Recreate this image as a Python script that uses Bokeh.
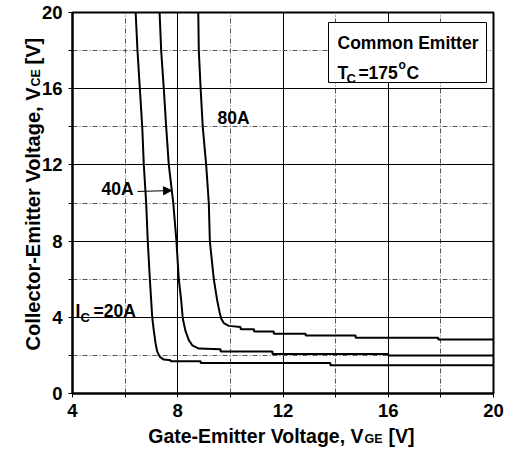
import math
from bokeh.plotting import figure
from bokeh.models import Range1d, FixedTicker, Label, BoxAnnotation, Arrow, NormalHead
from bokeh.embed import file_html
from bokeh.resources import INLINE

# ---------------- data ----------------
x_ticks = [4, 8, 12, 16, 20]
x_minor = [6, 10, 14, 18]
y_ticks = [0, 4, 8, 12, 16, 20]
y_minor = [2, 6, 10, 14, 18]

vge_20a = [6.40, 6.47, 6.56, 6.65, 6.71, 6.80, 6.86, 6.94, 7.03, 7.09, 7.16, 7.22, 7.32, 7.47, 7.73, 7.73, 8.87, 8.87, 13.8, 13.8, 20.0]
vce_20a = [20.0, 18.0, 16.0, 14.0, 12.0, 10.0, 8.0, 6.0, 4.0, 3.3, 2.6, 2.2, 1.92, 1.78, 1.74, 1.69, 1.69, 1.60, 1.60, 1.48, 1.48]

vge_40a = [7.31, 7.37, 7.47, 7.56, 7.66, 7.83, 7.95, 8.04, 8.13, 8.19, 8.29, 8.42, 8.55, 8.80, 9.63, 9.63, 11.6, 11.6, 16.0, 16.0, 20.0]
vce_40a = [20.0, 18.0, 16.0, 14.0, 12.0, 10.0, 8.0, 6.0, 4.9, 3.95, 3.3, 2.8, 2.53, 2.36, 2.32, 2.20, 2.20, 2.07, 2.07, 1.99, 1.99]

vge_80a = [8.78, 8.80, 8.87, 8.95, 9.08, 9.18, 9.22, 9.37, 9.50, 9.59, 9.65, 9.75, 9.94, 10.39, 10.39, 10.9, 10.9, 11.65, 11.65, 12.86, 12.86, 14.76, 14.76, 17.9, 17.9, 20.0]
vce_80a = [20.0, 18.0, 16.0, 14.0, 12.0, 10.0, 8.0, 6.0, 4.88, 4.27, 3.94, 3.70, 3.55, 3.49, 3.37, 3.37, 3.26, 3.26, 3.14, 3.14, 3.05, 3.05, 2.93, 2.93, 2.83, 2.83]

# ---------------- layout ----------------
W, H = 513, 449
FL, FT, FW, FH = 72, 12, 421, 381
XMIN, XMAX, YMIN, YMAX = 4, 20, 0, 20
SX = FW / (XMAX - XMIN)
SY = FH / (YMAX - YMIN)


def dx(px):
    return XMIN + (px - FL) / SX


def dy(py):
    return YMIN + (FT + FH - py) / SY


FONT = "Liberation Sans"

p = figure(width=W, height=H, x_range=Range1d(XMIN, XMAX), y_range=Range1d(YMIN, YMAX),
           output_backend="svg", toolbar_location=None,
           min_border_left=FL, min_border_right=W - FL - FW,
           min_border_top=FT, min_border_bottom=H - FT - FH)
p.background_fill_color = "white"
p.border_fill_color = "white"
p.outline_line_color = "black"
p.outline_line_width = 2

p.xaxis.ticker = FixedTicker(ticks=x_ticks, minor_ticks=x_minor)
p.yaxis.ticker = FixedTicker(ticks=y_ticks, minor_ticks=y_minor)

for ax in (p.xaxis[0], p.yaxis[0]):
    ax.axis_line_color = "black"
    ax.axis_line_width = 2
    ax.major_tick_line_color = "black"
    ax.major_tick_line_width = 1
    ax.major_tick_out = 4
    ax.major_tick_in = 0
    ax.minor_tick_line_color = "black"
    ax.minor_tick_out = 4
    ax.minor_tick_in = 0
    ax.major_label_text_font = FONT
    ax.major_label_text_font_style = "bold"
    ax.major_label_text_font_size = "18.5px"
    ax.major_label_text_color = "black"
    # the real titles are drawn as labels in the side panels; this blank label
    # with a negative standoff only gives back the room those labels take
    ax.axis_label = "\u00a0"
    ax.axis_label_text_font_size = "20px"
    ax.axis_label_standoff = -70
p.xaxis.major_label_standoff = 6
p.yaxis.major_label_standoff = 6

for g in (p.xgrid[0], p.ygrid[0]):
    g.grid_line_color = "black"
    g.grid_line_width = 1
    g.grid_line_alpha = 1
    g.minor_grid_line_color = "#555555"
    g.minor_grid_line_width = 1
    g.minor_grid_line_dash = "5 2 1 2"

for xs, ys in ((vge_20a, vce_20a), (vge_40a, vce_40a), (vge_80a, vce_80a)):
    p.line(xs, ys, line_color="black", line_width=2)


def mk(x, y, text, size, align="left", baseline="alphabetic", angle=0.0, units="data"):
    return Label(x=x, y=y, text=text, text_font=FONT, text_font_style="bold",
                 text_font_size=size, text_color="black", text_align=align,
                 text_baseline=baseline, angle=angle, x_units=units, y_units=units)


def lab(*args, **kw):
    p.add_layout(mk(*args, **kw))


# axis titles placed in the side panels (canvas pixel coordinates)
p.add_layout(mk(363, 435, "Gate-Emitter Voltage, V", "19.5px", align="right", units="canvas"), "below")
p.add_layout(mk(364, 438, "GE", "12.5px", units="canvas"), "right")
p.add_layout(mk(388, 435, "[V]", "19.5px", units="canvas"), "below")

p.add_layout(mk(32, 87, "Collector-Emitter Voltage, V", "20px", align="right", angle=math.pi / 2, units="canvas"), "left")
p.add_layout(mk(35, 86, "CE", "12.5px", angle=math.pi / 2, units="canvas"), "left")
p.add_layout(mk(32, 64, "[V]", "20px", angle=math.pi / 2, units="canvas"), "left")

# info box
p.add_layout(BoxAnnotation(left=dx(328), right=dx(486), top=dy(22), bottom=dy(82),
                           fill_color="white", fill_alpha=1, line_color="black",
                           line_width=1, line_alpha=1))
lab(dx(337), dy(42), "Common Emitter", "17.5px")
lab(dx(337), dy(72), "T", "17.5px")
lab(dx(346), dy(78), "C", "13px")
lab(dx(358), dy(72), "=", "17.5px")
lab(dx(368), dy(72), "175", "17.5px")
lab(dx(398), dy(64), "o", "12px")
lab(dx(406), dy(72), "C", "17.5px")

# curve labels
lab(dx(233), dy(117), "80A", "17.5px", align="center", baseline="middle")
lab(dx(117), dy(188), "40A", "17.5px", align="center", baseline="middle")
p.add_layout(Arrow(end=NormalHead(size=8, fill_color="black", line_color="black"),
                   x_start=dx(137), y_start=dy(191), x_end=dx(171), y_end=dy(190),
                   line_color="black", line_width=1))
lab(dx(75), dy(310), "I", "17.5px")
lab(dx(80), dy(317), "C", "13px")
lab(dx(93), dy(310), "=20A", "17.5px")

open("out.html", "w").write(file_html(p, INLINE))
